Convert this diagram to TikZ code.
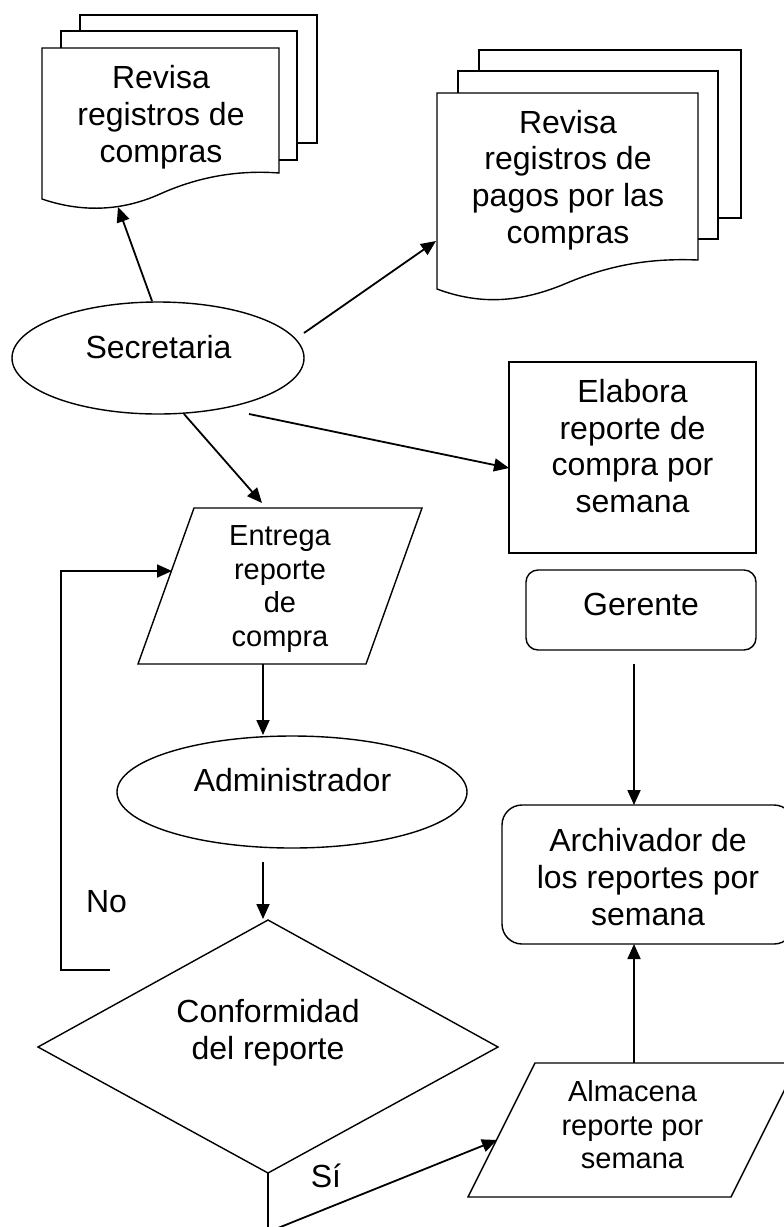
\documentclass[tikz,border=0pt]{standalone}
\usepackage{fontspec}
\setmainfont{Liberation Sans}
\usetikzlibrary{arrows.meta,shapes.geometric}
\begin{document}
\begin{tikzpicture}[x=1pt,y=-1pt,
  shp/.style={draw=black,line width=1.4pt,line join=miter},
  conn/.style={draw=black,line width=1.8pt,-{Triangle[length=15pt,width=13pt]}},
  plain/.style={draw=black,line width=1.8pt},
  big/.style={font=\fontsize{32}{36.8}\selectfont,align=center,inner sep=0pt},
  small/.style={font=\fontsize{29}{33.4}\selectfont,align=center,inner sep=0pt},
]
\useasboundingbox (0,0) rectangle (784,1227);
\fill[white] (0,0) rectangle (784,1227);
\clip (0,0) rectangle (784,1227);

% multi-document 1
\draw[shp] (80,31) -- (80,15) -- (317,15) -- (317,143) -- (297,143);
\draw[shp] (61,48) -- (61,31) -- (297,31) -- (297,160) -- (279,160);
\draw[shp] (42,48) -- (279,48) -- (279,173) .. controls (240,170) and (200,176) .. (160,194) .. controls (120,212) and (80,212) .. (42,199) -- cycle;
\node[big] (doc1t) at (161,117) {Revisa\\registros de\\compras};

% multi-document 2
\draw[shp] (479,71) -- (479,50) -- (741,50) -- (741,218) -- (718,218);
\draw[shp] (458,93) -- (458,71) -- (718,71) -- (718,239) -- (698,239);
\draw[shp] (437,93) -- (698,93) -- (698,260) .. controls (650,258) and (610,265) .. (567,283) .. controls (520,303) and (480,305) .. (437,289) -- cycle;
\node[big] (doc2t) at (568,180) {Revisa\\registros de\\pagos por las\\compras};

% ellipses
\node[shp,ellipse,minimum width=292pt,minimum height=112pt,inner sep=0pt] (sec) at (158,358) {};
\node[big] (sect) at (158.5,347) {Secretaria};
\node[shp,ellipse,minimum width=350pt,minimum height=112pt,inner sep=0pt] (adm) at (292,792) {};
\node[big] (admt) at (292.5,780) {Administrador};

% rectangles
\node[shp,rectangle,minimum width=247pt,minimum height=191pt] (elab) at (632.5,457.5) {};
\node[big] (elabt) at (632.5,446) {Elabora\\reporte de\\compra por\\semana};
\node[shp,rectangle,rounded corners=12pt,minimum width=230pt,minimum height=80pt] (ger) at (641,610) {};
\node[big] (gert) at (641,604) {Gerente};
\node[shp,rectangle,rounded corners=20pt,minimum width=292pt,minimum height=139pt] (arch) at (648,874.5) {};
\node[big] (archt) at (648,877) {Archivador de\\los reportes por\\semana};

% parallelograms
\draw[shp] (194,508) -- (422,508) -- (366,664) -- (138,664) -- cycle;
\node[small] (entt) at (280,589) {Entrega\\reporte\\de\\compra};
\draw[shp] (535,1063) -- (798,1063) -- (731,1197) -- (468,1197) -- cycle;
\node[small] (almt) at (632.5,1125) {Almacena\\reporte por\\semana};

% diamond
\draw[shp] (38,1047) -- (268,920) -- (498,1047) -- (268,1173) -- cycle;
\node[big] (conft) at (268,1033) {Conformidad\\del reporte};

% labels
\node[big] (nol) at (106.5,901.5) {No};
\node[big] (sil) at (326,1176) {Sí};

% connector points
\coordinate (s1) at (152,301);  \coordinate (d1) at (118,207);
\coordinate (s2) at (304,333);  \coordinate (d2) at (436,241);
\coordinate (s3) at (184,414);  \coordinate (d3) at (262,503);
\coordinate (s4) at (249,414);  \coordinate (d4) at (509,468);
\coordinate (g1) at (634,664);  \coordinate (a1) at (634,805);
\coordinate (e1) at (263,664);  \coordinate (m1) at (263,735);
\coordinate (m2) at (263,862);  \coordinate (dtop) at (263,919);
\coordinate (dbot) at (268,1173); \coordinate (corner) at (268,1232);
\coordinate (almL) at (497,1140);
\coordinate (almT) at (634,1063); \coordinate (archB) at (634,944);
\coordinate (nostart) at (110,970); \coordinate (noc1) at (61,970);
\coordinate (noc2) at (61,571); \coordinate (entL) at (172,571);

\draw[conn] (s1) -- (d1);
\draw[conn] (s2) -- (d2);
\draw[conn] (s3) -- (d3);
\draw[conn] (s4) -- (d4);
\draw[conn] (g1) -- (a1);
\draw[conn] (e1) -- (m1);
\draw[conn] (m2) -- (dtop);
\draw[plain] (dbot) -- (corner);
\draw[conn] (corner) -- (almL);
\draw[conn] (almT) -- (archB);
\draw[conn] (nostart) -- (noc1) -- (noc2) -- (entL);
\end{tikzpicture}
\end{document}
